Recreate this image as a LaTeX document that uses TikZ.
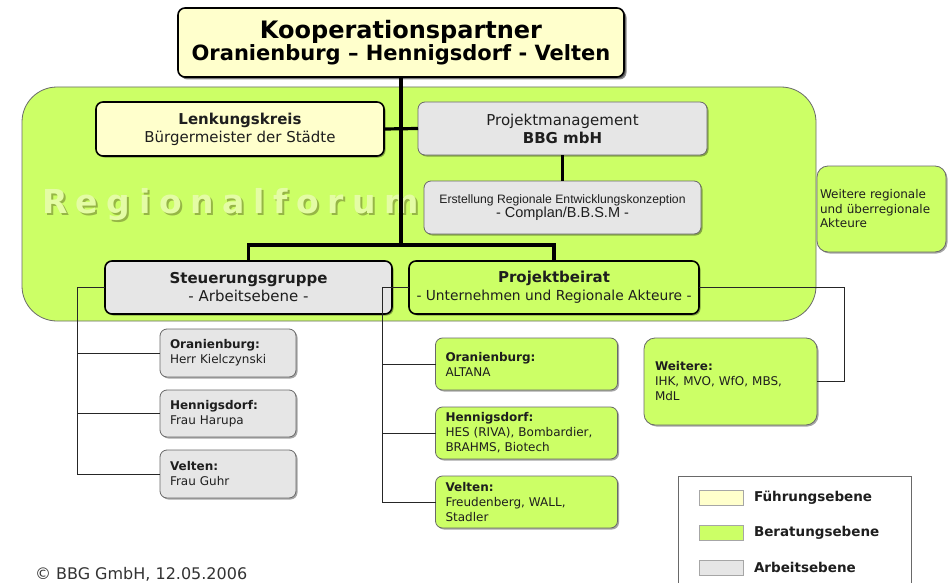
\documentclass[tikz,border=0pt]{standalone}
\usepackage{fontspec}
\setmainfont{DejaVu Sans}
\newfontfamily\arialf{Liberation Sans}
\newfontfamily\wmfont[LetterSpace=26]{DejaVu Sans}
\usetikzlibrary{shadows}
\definecolor{fyellow}{RGB}{255,255,204}
\definecolor{fgreen}{RGB}{204,255,102}
\definecolor{fgrey}{RGB}{230,230,230}
\definecolor{bgrey}{RGB}{105,105,105}
\definecolor{txt}{RGB}{30,30,30}
\definecolor{wmlight}{RGB}{228,252,165}
\definecolor{wmdark}{RGB}{150,182,70}
\begin{document}
\begin{tikzpicture}[x=1pt,y=-1pt,
  every node/.style={inner sep=0pt, outer sep=0pt, text=txt},
  shad/.style={drop shadow={shadow xshift=1.5pt, shadow yshift=-1.5pt, opacity=0.35, fill=black}},
  boxbase/.style={rounded corners=7pt, shad},
  thickbox/.style={boxbase, draw=black, line width=1.6pt},
  thinbox/.style={boxbase, draw=bgrey, line width=0.8pt},
  cbox/.style={align=center},
  bigf/.style={font=\fontsize{15}{18}\selectfont},
  smallf/.style={font=\fontsize{12}{15}\selectfont},
  legf/.style={anchor=west, font=\bfseries\fontsize{13.5}{15}\selectfont},
  swatch/.style={draw=black!35, line width=0.8pt, minimum width=44, minimum height=15},
  trunk/.style={line width=3.2pt, black},
  twig/.style={line width=0.9pt, black!85}
]
\useasboundingbox (0,0) rectangle (950,583);
\fill[white] (0,0) rectangle (950,583);

% Regionalforum area
\node[draw=bgrey, line width=0.8pt, fill=fgreen, rounded corners=35pt,
      minimum width=794, minimum height=234] (forum) at (419,204) {};
\node[anchor=west, text=wmlight, font=\wmfont\bfseries\fontsize{33}{33}\selectfont] (wm) at (42,205.5)
  {\makebox[0pt][l]{\hspace{2pt}\raisebox{-2pt}{\color{wmdark}Regionalforum}}Regionalforum};

% main boxes
\node[thickbox, fill=fyellow, cbox, minimum width=446, minimum height=69,
      font=\bfseries, text=black, drop shadow={shadow xshift=2.5pt, shadow yshift=-2.5pt, opacity=0.45, fill=black}] (top) at (401,42.5)
  {{\fontsize{24}{28}\selectfont Kooperationspartner}\\{\fontsize{21}{26}\selectfont Oranienburg – Hennigsdorf - Velten}};

\node[thickbox, fill=fyellow, cbox, bigf, minimum width=288, minimum height=54] (lenk) at (240,129)
  {\textbf{Lenkungskreis}\\Bürgermeister der Städte};
\node[thinbox, fill=fgrey, cbox, bigf, minimum width=289, minimum height=53] (pm) at (562.5,128.5)
  {Projektmanagement\\\textbf{BBG mbH}};
\node[thinbox, fill=fgrey, cbox, minimum width=277, minimum height=53] (erst) at (562.5,207.5)
  {{\arialf\fontsize{12.2}{15}\selectfont Erstellung Regionale Entwicklungskonzeption}\\{\arialf\fontsize{14.5}{16}\selectfont - Complan/B.B.S.M -}};
\node[thickbox, fill=fgrey, cbox, bigf, minimum width=287, minimum height=53] (steu) at (248.5,287.5)
  {\textbf{Steuerungsgruppe}\\- Arbeitsebene -};
\node[thickbox, fill=fgreen, cbox, bigf, minimum width=290, minimum height=53] (beirat) at (554,287.5)
  {\textbf{Projektbeirat}\\{\fontsize{13.8}{18}\selectfont - Unternehmen und Regionale Akteure -}};
\node[thinbox, fill=fgreen, rounded corners=11pt, align=left, font=\fontsize{12}{14.5}\selectfont,
      minimum width=129, minimum height=86, text width=123, inner xsep=3pt] (wreg) at (881.5,209)
  {Weitere regionale\\und überregionale\\Akteure};

% thick connectors
\coordinate (j) at (401,245);
\draw[trunk] (top.south) -- (j);
\draw[trunk] (lenk.east) -- (pm.west);
\draw[trunk] (steu.north) |- (j) -| (beirat.north);
\draw[line width=2.6pt, black] (pm.south) -- (erst.north);

% small boxes, Arbeitsebene
\node[thinbox, fill=fgrey, smallf, align=left, minimum width=136, minimum height=48, text width=116, inner xsep=10pt] (l1) at (228,353)
  {\textbf{Oranienburg:}\\Herr Kielczynski};
\node[thinbox, fill=fgrey, smallf, align=left, minimum width=136, minimum height=47, text width=116, inner xsep=10pt] (l2) at (228,413.5)
  {\textbf{Hennigsdorf:}\\Frau Harupa};
\node[thinbox, fill=fgrey, smallf, align=left, minimum width=136, minimum height=48, text width=116, inner xsep=10pt] (l3) at (228,474)
  {\textbf{Velten:}\\Frau Guhr};

% small boxes, Beratungsebene
\node[thinbox, fill=fgreen, smallf, align=left, minimum width=182, minimum height=52, text width=162, inner xsep=10pt] (m1) at (526.5,364)
  {\textbf{Oranienburg:}\\ALTANA};
\node[thinbox, fill=fgreen, smallf, align=left, minimum width=182, minimum height=52, text width=162, inner xsep=10pt] (m2) at (526.5,433)
  {\textbf{Hennigsdorf:}\\HES (RIVA), Bombardier,\\BRAHMS, Biotech};
\node[thinbox, fill=fgreen, smallf, align=left, minimum width=182, minimum height=52, text width=162, inner xsep=10pt] (m3) at (526.5,502)
  {\textbf{Velten:}\\Freudenberg, WALL,\\Stadler};
\node[thinbox, fill=fgreen, rounded corners=11pt, smallf, align=left, minimum width=173, minimum height=87, text width=151, inner xsep=11pt] (w) at (730.5,381.5)
  {\textbf{Weitere:}\\IHK, MVO, WfO, MBS,\\MdL};

% thin connectors
\coordinate (sl) at (77,287.5);
\draw[twig] (steu.west) -- (sl) |- (l3.west);
\draw[twig] (sl |- l1.west) -- (l1.west);
\draw[twig] (sl |- l2.west) -- (l2.west);
\coordinate (bl) at (382,287.5);
\draw[twig] (beirat.west) -- (bl) |- (m3.west);
\draw[twig] (bl |- m1.west) -- (m1.west);
\draw[twig] (bl |- m2.west) -- (m2.west);
\coordinate (br) at (844,287.5);
\draw[twig] (beirat.east) -- (br) |- (w.east);

% legend
\coordinate (lg1) at (678.5,590);
\coordinate (lg2) at (911.5,476);
\coordinate (lg3) at (911.5,590);
\draw[bgrey, line width=1pt] (lg1) |- (lg2) -- (lg3);
\node[swatch, fill=fyellow] (s1) at (721,497.5) {};
\node[swatch, fill=fgreen] (s2) at (721,532.5) {};
\node[swatch, fill=fgrey] (s3) at (721,567.5) {};
\node[legf] (t1) at (754,497.5) {Führungsebene};
\node[legf] (t2) at (754,532.5) {Beratungsebene};
\node[legf] (t3) at (754,567.5) {Arbeitsebene};

% copyright
\node[anchor=west, font=\fontsize{16}{18}\selectfont, text=black!80] (copy) at (35,574) {© BBG GmbH, 12.05.2006};
\end{tikzpicture}
\end{document}
